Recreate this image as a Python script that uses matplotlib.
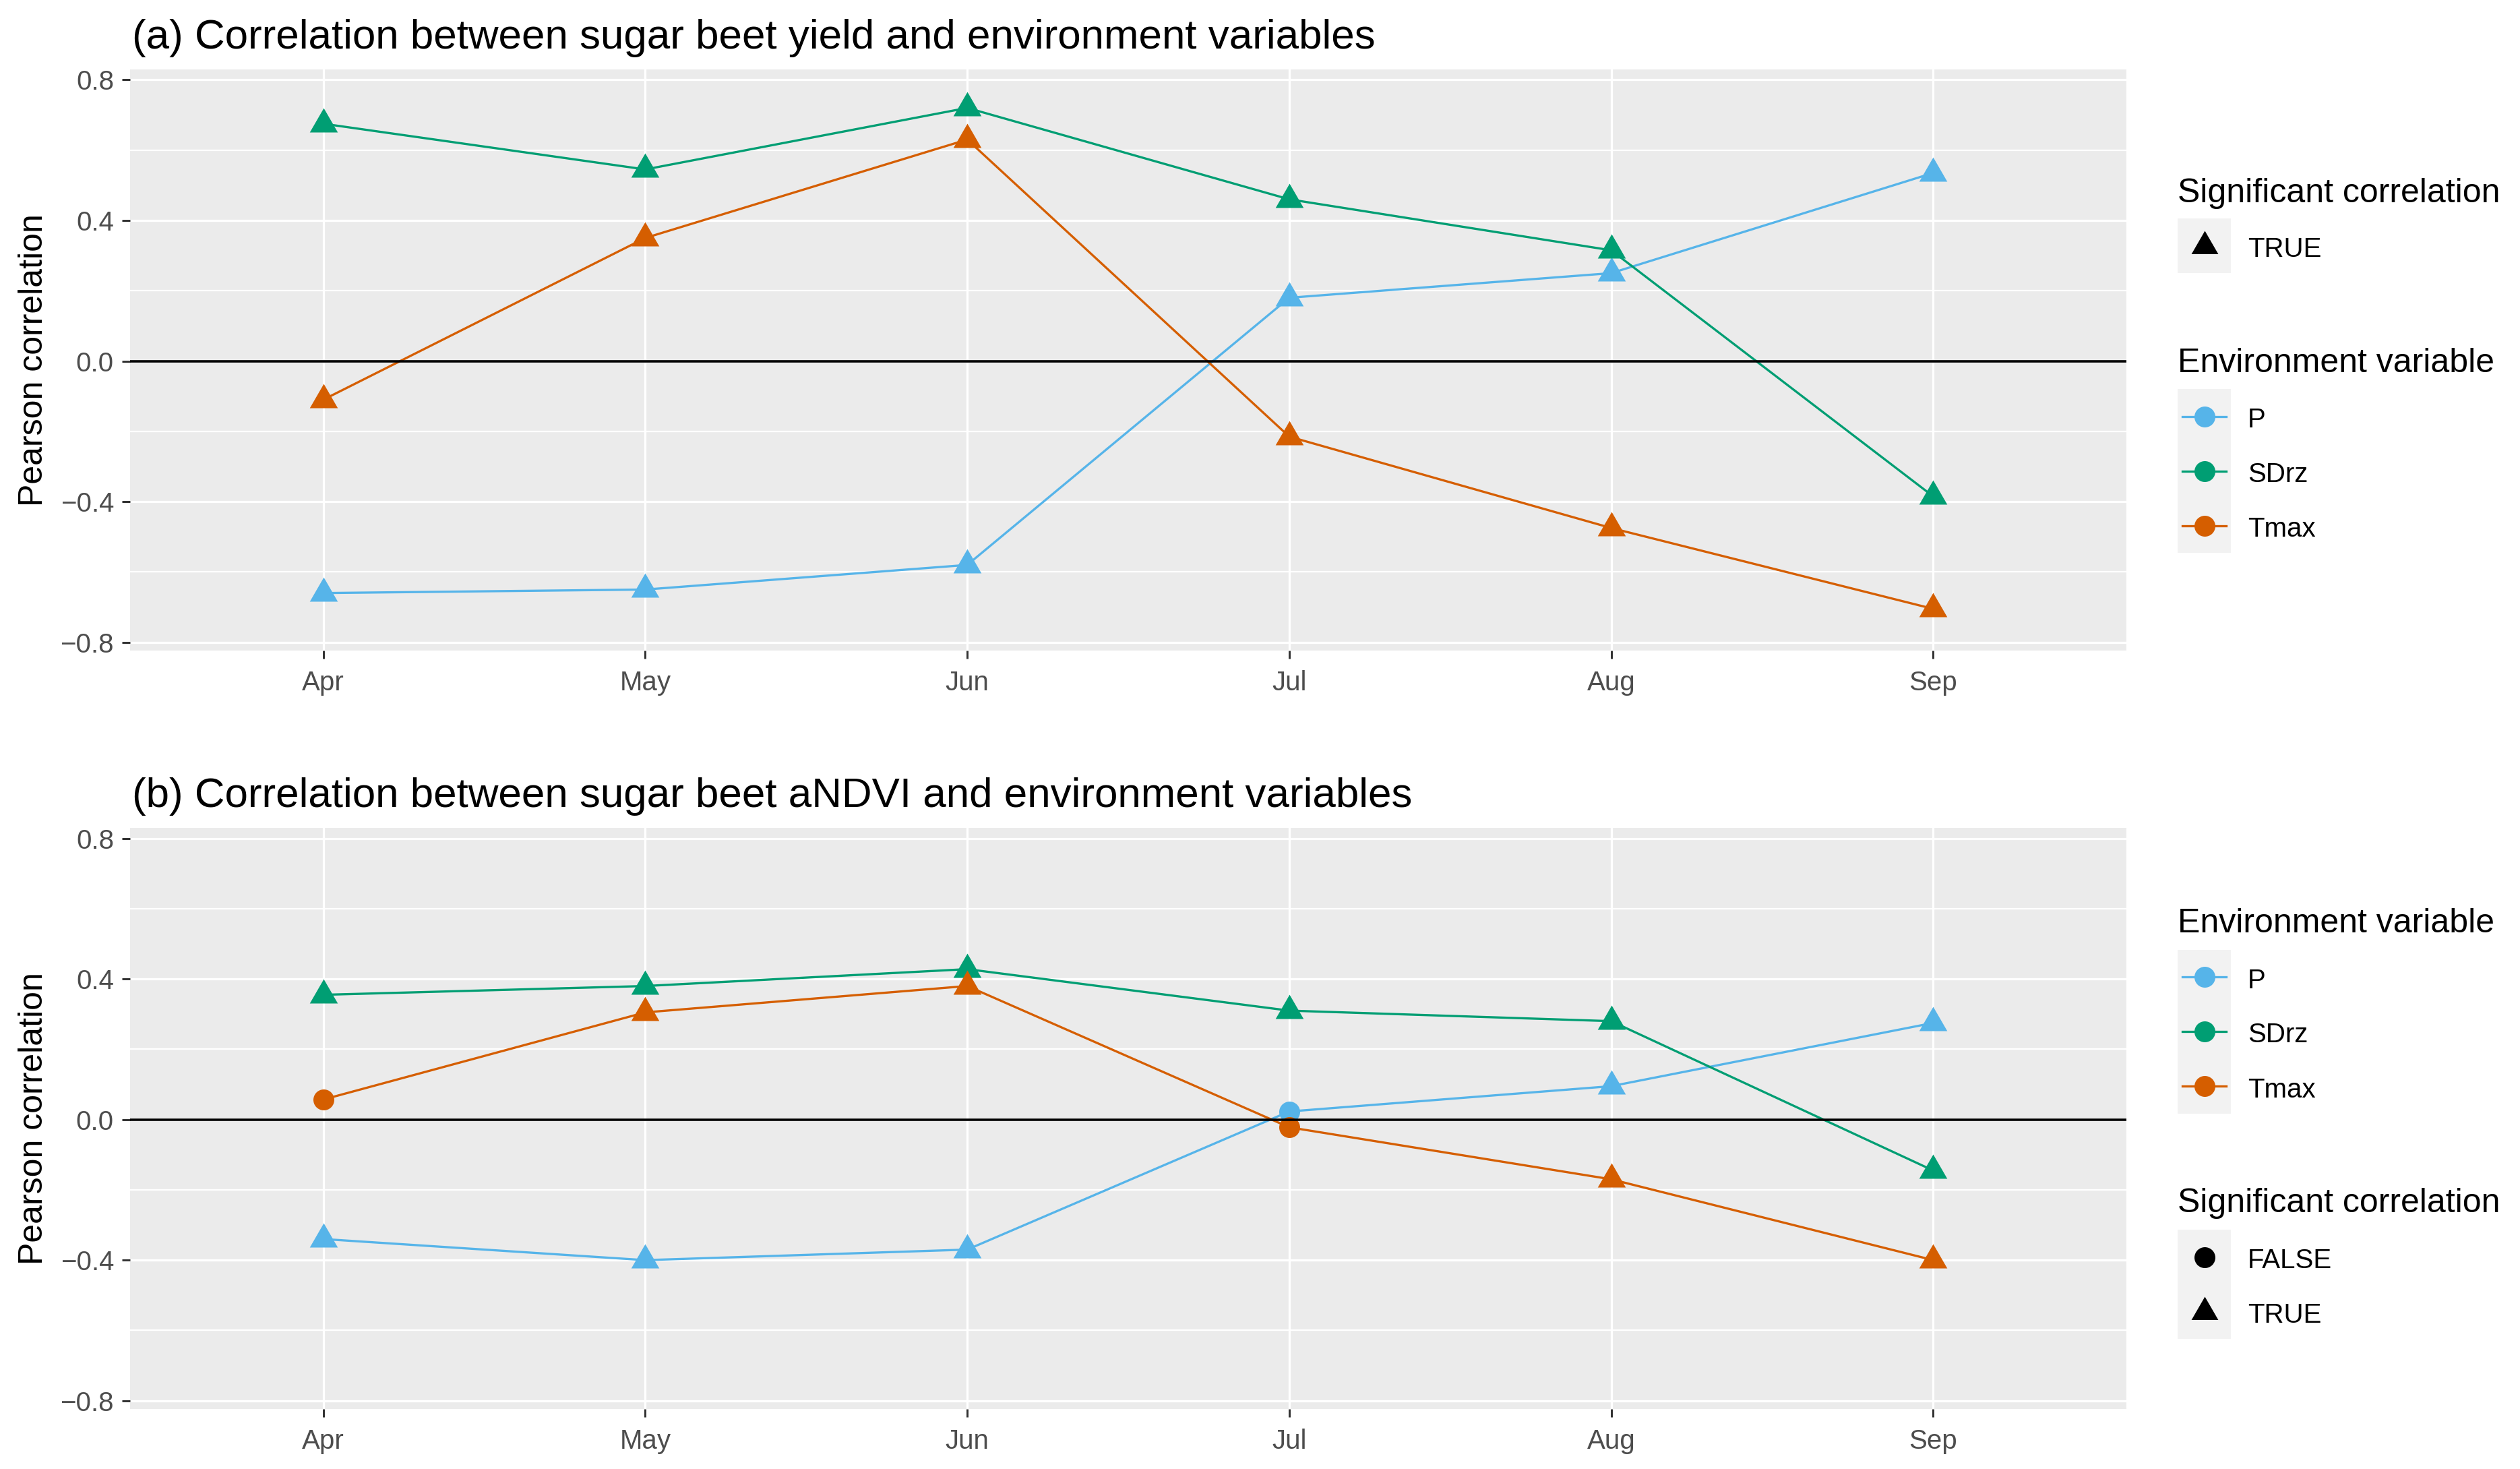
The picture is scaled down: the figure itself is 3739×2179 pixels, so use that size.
import matplotlib
matplotlib.use("Agg")
import matplotlib.pyplot as plt
from matplotlib.lines import Line2D
from matplotlib.patches import Rectangle
import numpy as np

# ---------------- data ----------------
months = ["Apr", "May", "Jun", "Jul", "Aug", "Sep"]
variables = ["P", "SDrz", "Tmax"]

# (a) yield vs environment
yield_P = [-0.66, -0.65, -0.58, 0.18, 0.25, 0.535]
yield_SDrz = [0.675, 0.545, 0.72, 0.46, 0.315, -0.385]
yield_Tmax = [-0.11, 0.35, 0.63, -0.215, -0.475, -0.705]
yield_sig_P = [True, True, True, True, True, True]
yield_sig_SDrz = [True, True, True, True, True, True]
yield_sig_Tmax = [True, True, True, True, True, True]

# (b) aNDVI vs environment
andvi_P = [-0.34, -0.40, -0.37, 0.023, 0.095, 0.275]
andvi_SDrz = [0.355, 0.38, 0.428, 0.31, 0.28, -0.145]
andvi_Tmax = [0.057, 0.305, 0.38, -0.022, -0.17, -0.40]
andvi_sig_P = [True, True, True, False, True, True]
andvi_sig_SDrz = [True, True, True, True, True, True]
andvi_sig_Tmax = [False, True, True, False, True, True]

titles = ["(a) Correlation between sugar beet yield and environment variables",
          "(b) Correlation between sugar beet aNDVI and environment variables"]
y_label = "Pearson correlation"
y_ticks = [-0.8, -0.4, 0.0, 0.4, 0.8]
y_minor = [-0.6, -0.2, 0.2, 0.6]

colors = {"P": "#56B4E9", "SDrz": "#009E73", "Tmax": "#D55E00"}

# ---------------- styling ----------------
W, H, DPI = 3739, 2179, 100
plt.rcParams["font.family"] = ["Liberation Sans", "DejaVu Sans"]

def fx(px):
    return px / W

def fy(py):
    return 1 - py / H

TRI = [(0, 1.5551), (1.3468, -0.7776), (-1.3468, -0.7776), (0, 1.5551)]
px2pt = 72 / DPI
TRI_MS = 48 * px2pt
CIR_MS = 31 * px2pt
LW = 3.3 * px2pt

fig = plt.figure(figsize=(W / DPI, H / DPI), dpi=DPI)
fig.patch.set_facecolor("white")

axes_px = [(102.7, 965.0), (1228.0, 2090.0)]
left_px, right_px = 193.0, 3155.0
ylim = (-0.8236, 0.830)

panels = [
    ({"P": yield_P, "SDrz": yield_SDrz, "Tmax": yield_Tmax},
     {"P": yield_sig_P, "SDrz": yield_sig_SDrz, "Tmax": yield_sig_Tmax}),
    ({"P": andvi_P, "SDrz": andvi_SDrz, "Tmax": andvi_Tmax},
     {"P": andvi_sig_P, "SDrz": andvi_sig_SDrz, "Tmax": andvi_sig_Tmax}),
]
title_baselines = [72, 1197]

x = np.arange(1, len(months) + 1)

for i, ((top, bot), (vals, sigs)) in enumerate(zip(axes_px, panels)):
    ax = fig.add_axes([fx(left_px), fy(bot), (right_px - left_px) / W, (bot - top) / H])
    ax.set_facecolor("#EBEBEB")
    for s in ax.spines.values():
        s.set_visible(False)
    ax.set_xlim(0.4, 6.6)
    ax.set_ylim(*ylim)
    # grid
    for yv in y_minor:
        ax.axhline(yv, color="white", lw=2.3 * px2pt, zorder=0.5)
    for yv in y_ticks:
        ax.axhline(yv, color="white", lw=3.3 * px2pt, zorder=0.6)
    for xv in x:
        ax.axvline(xv, color="white", lw=3.3 * px2pt, zorder=0.6)
    ax.set_xticks(x)
    ax.set_xticklabels(months)
    ax.set_yticks(y_ticks)
    ax.set_yticklabels([f"{v:.1f}".replace("-", "\u2212") for v in y_ticks])
    ax.tick_params(axis="both", length=12 * px2pt, width=3 * px2pt, color="#333333",
                   labelcolor="#4D4D4D", labelsize=29)
    ax.tick_params(axis="y", pad=12 * px2pt)
    ax.tick_params(axis="x", pad=17 * px2pt)
    # lines
    for v in variables:
        ax.plot(x, vals[v], color=colors[v], lw=LW, zorder=2, solid_capstyle="butt")
    for v in variables:
        arr = np.array(vals[v])
        sg = np.array(sigs[v])
        if sg.any():
            ax.plot(x[sg], arr[sg], ls="none", marker=TRI, ms=TRI_MS, mew=0,
                    color=colors[v], zorder=3)
        if (~sg).any():
            ax.plot(x[~sg], arr[~sg], ls="none", marker="o", ms=CIR_MS, mew=0,
                    color=colors[v], zorder=3)
    ax.axhline(0, color="black", lw=3.6 * px2pt, zorder=4)

    fig.text(fx(196), fy(title_baselines[i]), titles[i], fontsize=44.6,
             va="baseline", ha="left", color="black")
    fig.text(fx(50), fy((top + bot) / 2), y_label, fontsize=36, rotation=90,
             va="center", ha="center", color="black")

# ---------------- legends ----------------
KEY_X, KEY_W, ROW_H = 3231, 79, 81
LABEL_X = 3335


def legend_block(title, title_base, box_top, rows):
    fig.text(fx(KEY_X), fy(title_base), title, fontsize=36, va="baseline",
             ha="left", color="black")
    n = len(rows)
    fig.add_artist(Rectangle((fx(KEY_X), fy(box_top + n * ROW_H)), KEY_W / W,
                             n * ROW_H / H, transform=fig.transFigure,
                             facecolor="#F2F2F2", edgecolor="none"))
    for j, (label, kind, col) in enumerate(rows):
        cy = box_top + ROW_H / 2 + j * ROW_H
        cx = KEY_X + KEY_W / 2
        if kind == "line":
            fig.add_artist(Line2D([fx(KEY_X + 7), fx(KEY_X + KEY_W - 7)], [fy(cy), fy(cy)],
                                  transform=fig.transFigure, color=col, lw=LW))
            fig.add_artist(Line2D([fx(cx)], [fy(cy)], transform=fig.transFigure,
                                  ls="none", marker="o", ms=CIR_MS, mew=0, color=col))
        elif kind == "tri":
            fig.add_artist(Line2D([fx(cx)], [fy(cy)], transform=fig.transFigure,
                                  ls="none", marker=TRI, ms=46 * px2pt, mew=0, color=col))
        else:
            fig.add_artist(Line2D([fx(cx)], [fy(cy)], transform=fig.transFigure,
                                  ls="none", marker="o", ms=CIR_MS, mew=0, color=col))
        fig.text(fx(LABEL_X), fy(cy + 16.5), label, fontsize=29, va="baseline",
                 ha="left", color="black")


env_rows = [(v, "line", colors[v]) for v in variables]

legend_block("Significant correlation", 299.5, 324, [("TRUE", "tri", "black")])
legend_block("Environment variable", 552.3, 577, env_rows)
legend_block("Environment variable", 1383.3, 1408.5, env_rows)
legend_block("Significant correlation", 1797.8, 1824,
             [("FALSE", "circ", "black"), ("TRUE", "tri", "black")])

fig.savefig("out.png", dpi=DPI, facecolor="white")
